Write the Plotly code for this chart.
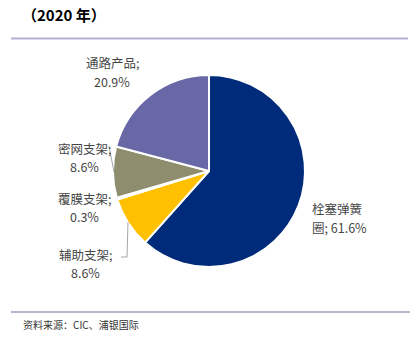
import plotly.graph_objects as go

# Market share by product segment, 2020
segments = ["栓塞弹簧圈", "辅助支架", "覆膜支架", "密网支架", "通路产品"]
shares = [61.6, 8.6, 0.3, 8.6, 20.9]
colors = ["#002B7A", "#FFC000", "#A5A5A5", "#8E8E6E", "#6868A6"]

W, H = 413, 343


def px(x):
    return x / W


def py(y):
    return 1 - y / H


fig = go.Figure()

cx, cy, r = 209, 171, 96
fig.add_trace(go.Pie(
    labels=segments,
    values=shares,
    sort=False,
    direction="clockwise",
    rotation=0,
    marker=dict(colors=colors, line=dict(color="white", width=2)),
    textinfo="none",
    hoverinfo="label+percent",
    showlegend=False,
    domain=dict(x=[px(cx - r), px(cx + r)], y=[py(cy + r), py(cy - r)]),
))

label_font = dict(family="Noto Sans CJK SC, sans-serif", size=12.5, color="#454545")


def fmt(v):
    return f"{v:.1f}%"


def add_text(x, y, text, anchor):
    fig.add_annotation(
        x=px(x), y=py(y), xref="paper", yref="paper",
        text=text, showarrow=False, borderpad=0,
        xanchor=anchor, yanchor="middle", font=label_font,
    )


# two-line slice labels: (x, first line y, second line y, anchor, line1, line2)
label_specs = [
    (112, 63, 82, "center", f"{segments[4]};", fmt(shares[4])),
    (84, 148, 166, "center", f"{segments[3]};", fmt(shares[3])),
    (84, 198, 216, "center", f"{segments[2]};", fmt(shares[2])),
    (85, 254, 272, "center", f"{segments[1]};", fmt(shares[1])),
    (311, 208, 227, "left", segments[0][:4], f"{segments[0][4:]}; {fmt(shares[0])}"),
]
for x, y1, y2, anchor, t1, t2 in label_specs:
    add_text(x, y1, t1, anchor)
    add_text(x, y2, t2, anchor)

# leader lines
leaders = [
    [(109, 146), (114, 172)],
    [(121, 257), (127, 257), (128, 222)],
]
for pts in leaders:
    path = "M " + " L ".join(f"{px(a)},{py(b)}" for a, b in pts)
    fig.add_shape(type="path", path=path, xref="paper", yref="paper",
                  line=dict(color="#A6A6A6", width=1))

# header and footer rules
fig.add_shape(type="line", x0=px(11), x1=px(408), y0=py(38.5), y1=py(38.5),
              xref="paper", yref="paper", line=dict(color="#B4B2D4", width=2))
fig.add_shape(type="line", x0=px(11), x1=px(410), y0=py(312), y1=py(312),
              xref="paper", yref="paper", line=dict(color="#6E6AA0", width=1))

# title
fig.add_annotation(
    x=px(20), y=py(14), xref="paper", yref="paper",
    text="<b>（2020 年）</b>", showarrow=False, xanchor="left", yanchor="middle",
    font=dict(family="Noto Sans CJK SC, sans-serif", size=15, color="#000000"),
)

# source note
fig.add_annotation(
    x=px(21), y=py(324), xref="paper", yref="paper",
    text="资料来源：CIC、浦银国际", showarrow=False, xanchor="left", yanchor="middle",
    font=dict(family="Noto Sans CJK SC, sans-serif", size=10, color="#333333"),
)

fig.update_layout(
    width=W, height=H,
    margin=dict(l=0, r=0, t=0, b=0),
    paper_bgcolor="white",
    plot_bgcolor="white",
)

fig.write_html("out.html")
